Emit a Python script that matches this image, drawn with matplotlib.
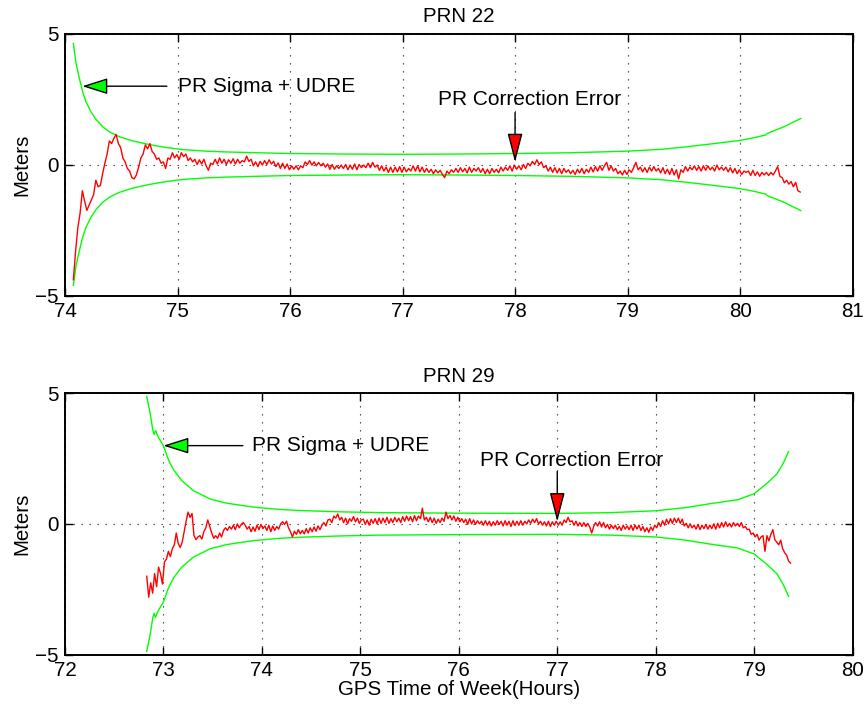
import numpy as np
import matplotlib
matplotlib.use("Agg")
import matplotlib.pyplot as plt

plt.rcParams['font.family'] = ['Liberation Sans', 'DejaVu Sans']

# ---------------- data: PRN 22 ----------------
titles = ["PRN 22", "PRN 29"]
xlims = [(74, 81), (72, 80)]
xticks22 = [74, 75, 76, 77, 78, 79, 80, 81]
xticks29 = [72, 73, 74, 75, 76, 77, 78, 79, 80]
yticks = [-5, 0, 5]

# PR Sigma + UDRE bound (upper; lower bound is its negative)
env22_t = [74.074, 74.098, 74.128, 74.157, 74.187, 74.231, 74.276, 74.335, 74.394, 74.483,
           74.602, 74.75, 74.899, 75.047, 75.254, 75.432, 75.7, 76.0, 76.5, 77.0,
           77.5, 78.0, 78.5, 79.0, 79.3, 79.53, 79.77, 80.0, 80.12, 80.23,
           80.243, 80.39, 80.54]
env22_v = [4.62, 3.85, 3.28, 2.77, 2.39, 2.01, 1.72, 1.44, 1.25, 1.06,
           0.90, 0.76, 0.65, 0.57, 0.51, 0.48, 0.45, 0.42, 0.40, 0.39,
           0.40, 0.42, 0.45, 0.51, 0.58, 0.68, 0.80, 0.92, 1.02, 1.13,
           1.19, 1.44, 1.76]

# PR correction error (evenly sampled between start and end)
err22_start, err22_end = 74.074, 80.534
err22 = [
    -4.4, -3.3, -2.4, -1.85, -1.0, -1.4, -1.75, -1.55, -1.35, -1.15,
    -0.6, -0.85, -0.8, -0.35, 0.05, 0.4, 0.9, 0.8, 1.0, 1.15,
    0.8, 0.65, 0.25, 0.1, -0.15, -0.25, -0.5, -0.55, -0.4, -0.1,
    0.25, 0.4, 0.75, 0.6, 0.8, 0.5, 0.4, 0.2, 0.25, 0.05,
    0.1, -0.15, 0.25, 0.2, 0.45, 0.25, 0.38, 0.2, 0.45, 0.3,
    0.4, 0.15, 0.25, 0.1, 0.2, 0.0, 0.18, 0.02, 0.2, -0.05,
    -0.22, 0.05, 0.0, 0.2, 0.02, 0.25, 0.05, 0.2, 0.0, 0.18,
    0.05, 0.22, 0.02, 0.2, 0.05, 0.15, 0.1, 0.32, 0.12, 0.2,
    -0.05, 0.1, -0.08, 0.12, -0.02, 0.15, 0.0, 0.18, 0.02, 0.12,
    -0.08, 0.06, -0.15, 0.05, -0.15, 0.02, -0.2, -0.05, -0.18, -0.05,
    -0.2, -0.05, -0.12, 0.1, 0.0, 0.15, -0.02, 0.1, -0.05, 0.08,
    -0.05, 0.05, -0.1, 0.02, -0.18, 0.0, -0.18, -0.05, -0.15, -0.02,
    -0.15, 0.0, -0.2, -0.02, -0.18, 0.02, -0.2, 0.0, -0.12, -0.02,
    -0.12, 0.05, -0.12, 0.08, -0.1, -0.02, -0.22, -0.05, -0.25, -0.1,
    -0.3, -0.1, -0.3, -0.1, -0.28, -0.08, -0.3, -0.1, -0.28, -0.15,
    -0.25, -0.05, -0.25, -0.05, -0.28, -0.1, -0.3, -0.15, -0.3, -0.18,
    -0.35, -0.2, -0.32, -0.22, -0.38, -0.5, -0.25, -0.35, -0.2, -0.3,
    -0.15, -0.3, -0.12, -0.28, -0.15, -0.32, -0.1, -0.3, -0.15, -0.25,
    -0.12, -0.3, -0.15, -0.35, -0.18, -0.35, -0.15, -0.3, -0.18, -0.32,
    -0.1, -0.25, -0.1, -0.22, -0.05, -0.25, -0.02, -0.18, -0.05, -0.2,
    0.0, -0.15, 0.05, -0.05, 0.12, 0.0, 0.18, 0.0, 0.1, -0.12,
    -0.05, -0.25, -0.1, -0.3, -0.12, -0.32, -0.15, -0.35, -0.15, -0.3,
    -0.2, -0.35, -0.22, -0.38, -0.18, -0.32, -0.15, -0.35, -0.18, -0.3,
    -0.1, -0.28, -0.08, -0.25, -0.05, -0.22, -0.05, 0.08, -0.22, -0.05,
    -0.25, -0.15, -0.35, -0.25, -0.4, -0.22, -0.38, -0.2, -0.3, -0.12,
    0.08, -0.2, -0.1, -0.28, -0.12, -0.3, -0.1, -0.25, -0.08, -0.25,
    -0.15, -0.32, -0.12, -0.35, -0.18, -0.38, -0.15, -0.4, -0.2, -0.55,
    -0.2, -0.3, -0.08, -0.25, -0.1, -0.2, -0.05, -0.22, -0.08, -0.25,
    -0.05, -0.22, -0.05, -0.2, -0.1, -0.25, -0.02, -0.2, -0.1, -0.22,
    -0.1, -0.28, -0.12, -0.32, -0.15, -0.35, -0.2, -0.38, -0.25, -0.3,
    -0.25, -0.42, -0.22, -0.42, -0.28, -0.45, -0.3, -0.4, -0.3, -0.42,
    -0.3, -0.4, -0.25, -0.08, -0.45, -0.5, -0.7, -0.6, -0.75, -0.65,
    -0.85, -0.68, -1.0, -1.05,
]

# ---------------- data: PRN 29 ----------------
env29_t = [72.83, 72.864, 72.891, 72.904, 72.918, 72.95, 73.0, 73.05, 73.10, 73.186,
           73.304, 73.474, 73.643, 73.914, 74.185, 74.388, 74.8, 75.2, 76.0, 77.0,
           77.54, 78.0, 78.3, 78.55, 78.83, 79.0, 79.13, 79.23, 79.30, 79.35]
env29_v = [4.87, 4.24, 3.6, 3.42, 3.57, 3.3, 2.98, 2.45, 2.08, 1.65,
           1.27, 0.95, 0.79, 0.64, 0.55, 0.51, 0.46, 0.43, 0.41, 0.40,
           0.43, 0.50, 0.62, 0.77, 0.92, 1.15, 1.55, 1.9, 2.35, 2.77]

err29_start, err29_end = 72.83, 79.37
err29 = [
    -2.0, -2.8, -2.25, -2.65, -1.9, -2.4, -1.65, -1.9, -2.3, -1.45,
    -1.35, -1.05, -1.25, -0.95, -0.8, -0.35, -0.75, -0.9, -0.7, -0.3,
    0.1, 0.45, 0.25, 0.4, -0.45, -0.6, -0.5, -0.45, -0.58, -0.3,
    -0.15, 0.15, -0.1, -0.35, -0.55, -0.45, -0.55, -0.35, -0.5, -0.25,
    -0.15, -0.25, -0.1, -0.2, -0.05, -0.22, 0.0, -0.15, -0.02, 0.05,
    -0.05, -0.2, -0.1, -0.3, -0.12, -0.28, -0.05, -0.22, -0.02, -0.18,
    -0.08, -0.25, -0.05, -0.3, -0.08, -0.25, -0.1, -0.2, 0.0, 0.08,
    -0.02, 0.1, -0.15, -0.3, -0.5, -0.28, -0.4, -0.22, -0.38, -0.25,
    -0.38, -0.18, -0.35, -0.15, -0.3, -0.12, -0.28, -0.08, -0.22, -0.05,
    0.05, -0.08, 0.15, 0.18, 0.05, 0.3, 0.22, 0.38, 0.15, 0.25,
    0.05, 0.22, 0.0, 0.2, 0.1, 0.28, 0.08, 0.22, 0.02, 0.15,
    0.18, -0.02, 0.15, -0.05, 0.18, 0.02, 0.2, 0.0, 0.22, 0.02,
    0.22, 0.05, 0.25, 0.02, 0.2, 0.05, 0.25, 0.08, 0.22, 0.05,
    0.28, 0.1, 0.3, 0.12, 0.28, 0.08, 0.32, 0.12, 0.3, 0.2,
    0.6, 0.15, 0.25, 0.08, 0.25, 0.05, 0.22, 0.02, 0.18, 0.05,
    0.22, 0.1, 0.45, 0.2, 0.32, 0.15, 0.3, 0.1, 0.25, 0.08,
    0.2, 0.05, 0.18, -0.02, 0.2, 0.0, 0.15, -0.02, 0.12, 0.0,
    0.1, -0.05, 0.12, -0.05, 0.1, -0.08, 0.08, -0.05, 0.12, -0.02,
    0.1, -0.08, 0.12, -0.05, 0.1, -0.1, 0.12, -0.06, 0.1, -0.05,
    0.12, -0.05, 0.1, 0.0, 0.15, 0.02, 0.18, 0.05, 0.2, 0.0,
    0.1, -0.05, 0.08, -0.08, 0.1, -0.1, 0.08, -0.05, 0.1, -0.05,
    0.08, -0.05, 0.15, 0.05, 0.25, 0.08, 0.12, -0.05, 0.1, -0.08,
    0.05, -0.1, 0.05, -0.1, 0.02, -0.12, -0.35, -0.1, 0.05, -0.08,
    0.08, -0.12, 0.05, -0.15, -0.02, -0.2, -0.05, -0.18, -0.05, -0.22,
    -0.1, -0.25, -0.05, -0.2, -0.08, -0.22, -0.05, -0.25, -0.05, -0.2,
    -0.05, -0.25, -0.1, -0.3, -0.15, -0.32, -0.12, -0.25, -0.05, -0.15,
    0.05, -0.1, 0.12, -0.05, 0.18, 0.0, 0.2, 0.02, 0.22, 0.05,
    0.22, 0.02, 0.18, -0.08, 0.02, -0.15, 0.0, -0.15, -0.05, -0.2,
    -0.02, -0.22, -0.05, -0.18, -0.02, -0.2, -0.05, -0.18, 0.0, -0.2,
    0.02, -0.15, 0.05, -0.12, 0.08, -0.1, 0.02, -0.12, 0.05, -0.08,
    0.02, -0.1, 0.05, -0.15, -0.1, -0.22, -0.2, -0.4, -0.35, -0.5,
    -0.4, -0.62, -0.5, -0.45, -1.05, -0.45, -0.65, -0.4, -0.22, -0.6,
    -0.7, -0.8, -0.62, -0.95, -1.1, -1.2, -1.42, -1.5,
]

# annotation anchor points (hours, meters)
sigma_label = "PR Sigma + UDRE"
corr_label = "PR Correction Error"
ann22 = dict(sig_tip=(74.154, 2.99), sig_tail=(74.905, 2.99), sig_text=(75.005, 2.99),
             cor_tip=(78.0, 0.09), cor_tail=(78.0, 1.98), cor_text=(78.13, 2.48))
ann29 = dict(sig_tip=(72.999, 2.99), sig_tail=(73.806, 2.99), sig_text=(73.903, 2.99),
             cor_tip=(77.0, 0.09), cor_tail=(77.0, 2.0), cor_text=(77.145, 2.44))

# ---------------- figure ----------------
fig = plt.figure(figsize=(8.66, 7.15), dpi=100)
ax1 = fig.add_axes([0.0751, 0.5867, 0.9094, 0.3664])
ax2 = fig.add_axes([0.0751, 0.0843, 0.9094, 0.3660])

GREEN = '#00ff00'
RED = '#ff0000'
FS = 14.8


def draw(ax, env_t, env_v, e_start, e_end, err, xlim, xticks, title, ann):
    env_t = np.asarray(env_t)
    env_v = np.asarray(env_v)
    t = np.linspace(e_start, e_end, len(err))
    ax.plot(env_t, env_v, color=GREEN, lw=1.0, zorder=2)
    ax.plot(env_t, -env_v, color=GREEN, lw=1.0, zorder=2)
    ax.plot(t, err, color=RED, lw=1.0, zorder=3)
    ax.set_xlim(*xlim)
    ax.set_ylim(-5, 5)
    ax.set_xticks(xticks)
    ax.set_yticks(yticks)
    ax.grid(True, color='#333333', lw=0.8, linestyle=(0, (1.2, 6)))
    ax.set_axisbelow(True)
    for s in ax.spines.values():
        s.set_linewidth(1.4)
    ax.tick_params(direction='in', top=True, right=True, length=6, width=1,
                   labelsize=FS, pad=4.5)
    ax.set_ylabel("Meters", fontsize=FS, labelpad=3)
    ax.set_title(title, fontsize=FS, pad=8)

    ax.annotate('', xy=ann['sig_tip'], xytext=ann['sig_tail'],
                arrowprops=dict(arrowstyle='-|>,head_length=1.58,head_width=0.5',
                                mutation_scale=10, facecolor=GREEN, edgecolor='k',
                                lw=1.0, shrinkA=0, shrinkB=0), zorder=5)
    ax.text(*ann['sig_text'], sigma_label, fontsize=15, ha='left', va='center')
    ax.annotate('', xy=ann['cor_tip'], xytext=ann['cor_tail'],
                arrowprops=dict(arrowstyle='-|>,head_length=1.8,head_width=0.47',
                                mutation_scale=10, facecolor=RED, edgecolor='k',
                                lw=1.0, shrinkA=0, shrinkB=0), zorder=5)
    ax.text(*ann['cor_text'], corr_label, fontsize=15, ha='center', va='center')


draw(ax1, env22_t, env22_v, err22_start, err22_end, err22, xlims[0], xticks22, titles[0], ann22)
draw(ax2, env29_t, env29_v, err29_start, err29_end, err29, xlims[1], xticks29, titles[1], ann29)
ax2.set_xlabel("GPS Time of Week(Hours)", fontsize=FS, labelpad=0)

fig.savefig("out.png", dpi=100)
